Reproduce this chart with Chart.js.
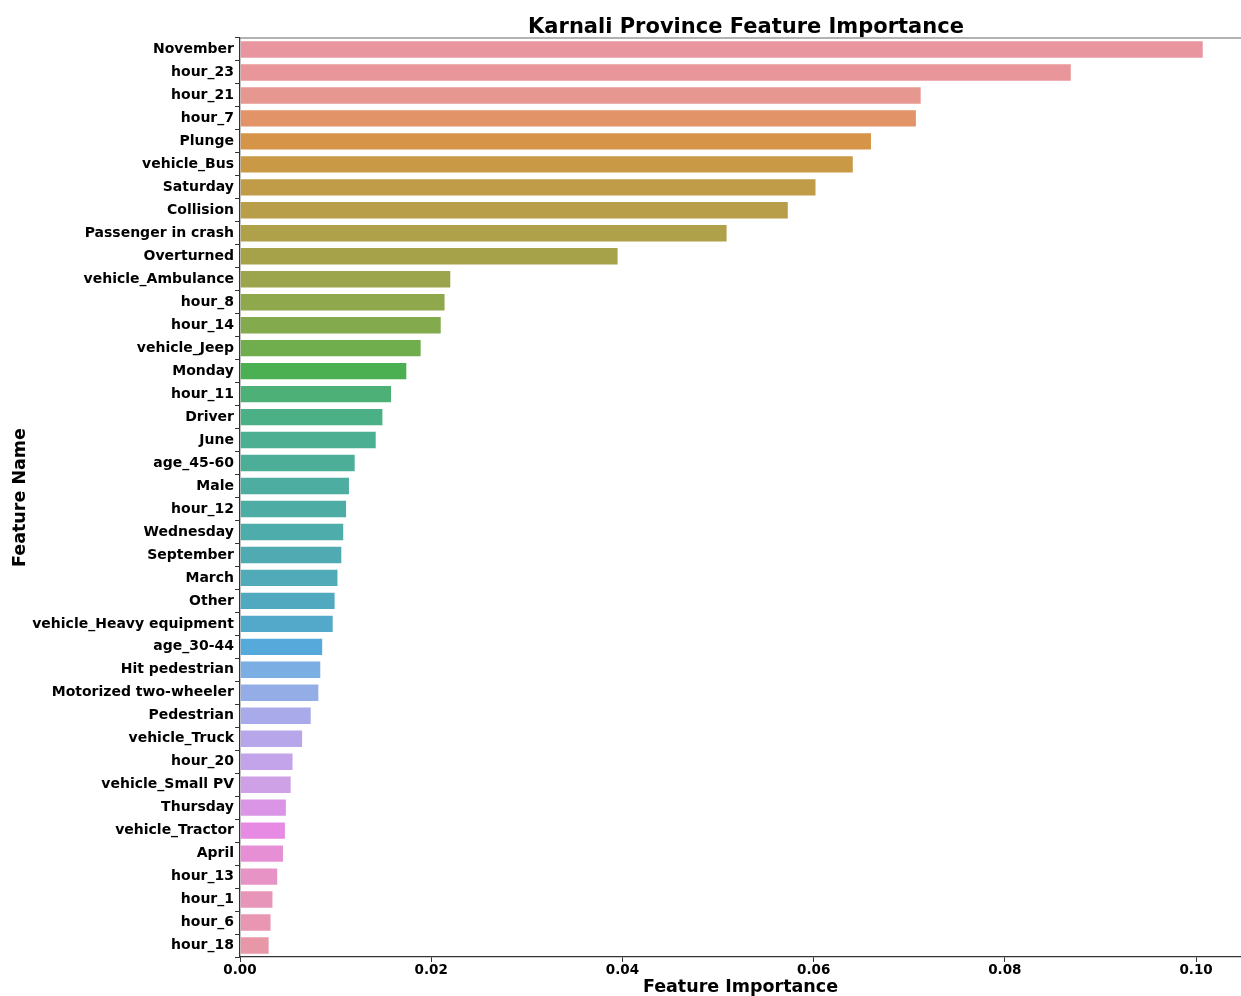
<!DOCTYPE html>
<html>
<head>
<meta charset="utf-8">
<script src="https://cdn.jsdelivr.net/npm/chart.js@4.4.1/dist/chart.umd.min.js"></script>
<style>
  body { margin: 0; background: #fff; }
  canvas { display: block; }
</style>
</head>
<body>
<canvas id="importanceChart" width="1241" height="996"></canvas>
<script>
// feature names, top to bottom
const features = [
  "November", "hour_23", "hour_21", "hour_7", "Plunge", "vehicle_Bus", "Saturday",
  "Collision", "Passenger in crash", "Overturned", "vehicle_Ambulance", "hour_8",
  "hour_14", "vehicle_Jeep", "Monday", "hour_11", "Driver", "June", "age_45-60",
  "Male", "hour_12", "Wednesday", "September", "March", "Other",
  "vehicle_Heavy equipment", "age_30-44", "Hit pedestrian", "Motorized two-wheeler",
  "Pedestrian", "vehicle_Truck", "hour_20", "vehicle_Small PV", "Thursday",
  "vehicle_Tractor", "April", "hour_13", "hour_1", "hour_6", "hour_18"
];

const importance = [
  0.1008, 0.0870, 0.0713, 0.0708, 0.0661, 0.0642, 0.0603,
  0.0574, 0.0510, 0.0396, 0.0221, 0.0215,
  0.0211, 0.0190, 0.0175, 0.0159, 0.0150, 0.0143, 0.0121,
  0.0115, 0.0112, 0.0109, 0.0107, 0.0103, 0.0100,
  0.0098, 0.0087, 0.0085, 0.0083,
  0.0075, 0.0066, 0.0056, 0.0054, 0.0049,
  0.0048, 0.0046, 0.0040, 0.0035, 0.0033, 0.0031
];

const xTicks = [0, 0.02, 0.04, 0.06, 0.08, 0.10];

// husl-ish palette, one per bar
const barColors = [
  "#e8959f", "#e8969a", "#e69790", "#e39368", "#d69449", "#c99946", "#c09b48",
  "#b89e48", "#afa04a", "#a6a24a", "#9ca54b", "#8fa84b",
  "#83aa4d", "#70ad4c", "#4ab052", "#4db177", "#4cb087", "#4daf91", "#4dae98",
  "#4dada0", "#4dada5", "#4eacab", "#4faab1", "#50aab8", "#51a9c0",
  "#53a9c9", "#55aadb", "#7baee3", "#94ade6", "#a8aae9", "#b8a6ea", "#c3a3e9",
  "#cea0e5", "#da95e7", "#e68ae3", "#e68fd4", "#e893c5", "#e895ba", "#e896b2", "#e897a8"
];

const chartTitle = "Karnali Province Feature Importance";

// top spine + title centred over the plot area
const frameAndTitle = {
  id: "frameAndTitle",
  afterDraw(chart) {
    const { ctx, chartArea: { top, left, right } } = chart;
    ctx.save();
    ctx.strokeStyle = "#999";
    ctx.lineWidth = 1.5;
    ctx.beginPath();
    ctx.moveTo(left, top);
    ctx.lineTo(right, top);
    ctx.stroke();

    ctx.fillStyle = "#000";
    ctx.font = "bold 21px 'DejaVu Sans'";
    ctx.textAlign = "center";
    ctx.textBaseline = "alphabetic";
    ctx.fillText(chartTitle, 746, 33);
    ctx.restore();
  },
};

var ctx = document.getElementById("importanceChart");

var myChart = new Chart(ctx, {
  type: "bar",
  data: {
    labels: features,
    datasets: [
      {
        label: "Feature Importance",
        data: importance,
        backgroundColor: barColors,
        borderColor: "rgba(255,255,255,0.55)",
        borderWidth: 1,
        categoryPercentage: 1,
        barPercentage: 0.8,
      },
    ],
  },
  options: {
    responsive: false,
    animation: false,
    indexAxis: "y",
    layout: { padding: { top: 38, right: 0, left: 0, bottom: 0 } },
    scales: {
      x: {
        type: "linear",
        min: 0,
        max: 0.1047,
        afterBuildTicks(scale) {
          scale.ticks = xTicks.map((v) => ({ value: v }));
        },
        afterFit(scale) {
          scale.height = 39;
        },
        grid: {
          drawOnChartArea: false,
          tickLength: 5,
          tickColor: "#333",
          tickWidth: 1,
        },
        border: { display: true, color: "#333", width: 1.3 },
        ticks: {
          padding: 0,
          color: "#000",
          font: { family: "DejaVu Sans", size: 13.5, weight: "bold" },
          callback: (val) => Number(val).toFixed(2),
        },
        title: {
          display: true,
          text: "Feature Importance",
          color: "#000",
          font: { family: "DejaVu Sans", size: 17.5, weight: "bold", lineHeight: 1 },
          padding: { top: 0, bottom: 0 },
        },
      },
      y: {
        afterFit(scale) {
          scale.width = 240;
        },
        grid: {
          drawOnChartArea: false,
          tickLength: 5,
          tickColor: "#333",
          tickWidth: 1,
        },
        border: { display: true, color: "#333", width: 1.3 },
        ticks: {
          padding: 1,
          autoSkip: false,
          color: "#000",
          font: { family: "DejaVu Sans", size: 14, weight: "bold" },
        },
        title: {
          display: true,
          text: "Feature Name",
          color: "#000",
          font: { family: "DejaVu Sans", size: 17.5, weight: "bold" },
          padding: { top: 10, bottom: 0 },
        },
      },
    },
    plugins: {
      legend: { display: false },
      tooltip: { enabled: false },
      title: { display: false },
    },
  },
  plugins: [frameAndTitle],
});
</script>
</body>
</html>
